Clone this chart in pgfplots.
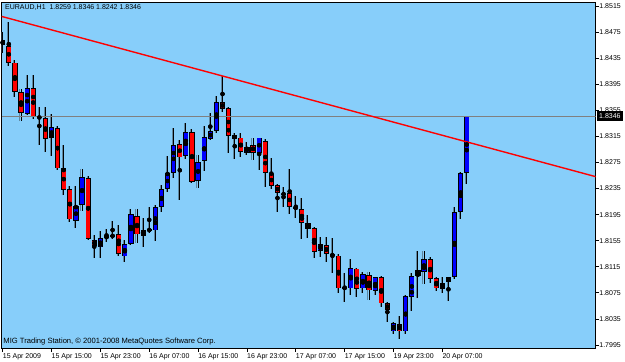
\documentclass[border=0pt]{standalone}
\usepackage{pgfplots}
\pgfplotsset{compat=1.18}
\usepackage{pgfplotstable}
\usepackage{fontspec}
\setmainfont{Liberation Sans}
\definecolor{mtbg}{RGB}{135,206,250}
\definecolor{mtgray}{RGB}{128,128,128}
\definecolor{mtred}{RGB}{255,0,0}
\definecolor{mtblue}{RGB}{0,0,255}
\definecolor{mtshadow}{RGB}{95,135,160}

% bearish (red) candles: bar index, open, high, low, close
\pgfplotstableread{
i o h l c
0 1.8463 1.8475 1.8443 1.8455
1 1.8454 1.8490 1.8423 1.8428
2 1.8428 1.8432 1.8375 1.8383
3 1.8383 1.8388 1.8339 1.8351
5 1.8389 1.8409 1.8342 1.8345
6 1.8345 1.8360 1.8302 1.8343
7 1.8343 1.8360 1.8291 1.8311
9 1.8328 1.8331 1.8263 1.8266
10 1.8266 1.8302 1.8225 1.8233
11 1.8234 1.8239 1.8184 1.8188
14 1.8251 1.8254 1.8156 1.8158
15 1.8156 1.8164 1.8128 1.8147
19 1.8165 1.8179 1.8131 1.8135
22 1.8193 1.8204 1.8151 1.8165
24 1.8173 1.8207 1.8167 1.8170
29 1.8303 1.8309 1.8217 1.8283
31 1.8322 1.8326 1.8243 1.8245
36 1.8368 1.8408 1.8352 1.8357
37 1.8358 1.8360 1.8289 1.8316
38 1.8317 1.8320 1.8280 1.8311
39 1.8313 1.8320 1.8283 1.8291
41 1.8302 1.8313 1.8279 1.8290
43 1.8308 1.8311 1.8237 1.8259
44 1.8257 1.8282 1.8234 1.8239
45 1.8240 1.8242 1.8199 1.8228
46 1.8227 1.8237 1.8207 1.8226
47 1.8228 1.8265 1.8196 1.8207
48 1.8207 1.8224 1.8190 1.8204
49 1.8204 1.8220 1.8158 1.8182
50 1.8182 1.8194 1.8159 1.8173
51 1.8174 1.8176 1.8128 1.8138
53 1.8148 1.8161 1.8122 1.8135
54 1.8135 1.8159 1.8105 1.8131
55 1.8132 1.8135 1.8075 1.8082
56 1.8083 1.8105 1.8061 1.8082
58 1.8112 1.8113 1.8069 1.8081
60 1.8102 1.8107 1.8064 1.8079
62 1.8099 1.8101 1.8053 1.8059
63 1.8059 1.8061 1.8030 1.8049
65 1.8027 1.8040 1.8004 1.8016
70 1.8127 1.8130 1.8090 1.8096
71 1.8098 1.8099 1.8078 1.8082
}\bear

% bullish (blue) candles
\pgfplotstableread{
i o h l c
4 1.8349 1.8409 1.8348 1.8389
8 1.8313 1.8349 1.8285 1.8329
12 1.8185 1.8239 1.8174 1.8208
13 1.8210 1.8265 1.8200 1.8253
16 1.8145 1.8170 1.8128 1.8159
17 1.8159 1.8173 1.8153 1.8162
18 1.8161 1.8185 1.8158 1.8164
20 1.8131 1.8156 1.8122 1.8150
21 1.8150 1.8204 1.8148 1.8196
23 1.8162 1.8190 1.8145 1.8171
25 1.8171 1.8210 1.8155 1.8207
26 1.8207 1.8240 1.8199 1.8234
27 1.8234 1.8285 1.8230 1.8259
28 1.8259 1.8328 1.8251 1.8302
30 1.8285 1.8336 1.8280 1.8322
32 1.8247 1.8286 1.8236 1.8276
33 1.8277 1.8331 1.8262 1.8314
34 1.8311 1.8351 1.8309 1.8323
35 1.8323 1.8377 1.8320 1.8368
40 1.8290 1.8306 1.8286 1.8299
42 1.8290 1.8313 1.8263 1.8313
52 1.8139 1.8161 1.8130 1.8150
57 1.8082 1.8127 1.8072 1.8113
59 1.8082 1.8107 1.8075 1.8104
61 1.8078 1.8099 1.8072 1.8099
64 1.8016 1.8030 1.8012 1.8029
66 1.8016 1.8072 1.8012 1.8070
67 1.8069 1.8105 1.8047 1.8101
68 1.8101 1.8139 1.8067 1.8110
69 1.8107 1.8139 1.8088 1.8127
72 1.8081 1.8099 1.8075 1.8090
73 1.8092 1.8099 1.8062 1.8099
74 1.8099 1.8207 1.8096 1.8199
75 1.8199 1.8260 1.8188 1.8259
76 1.8259 1.8346 1.8242 1.8346
}\bull

\pgfplotsset{
  wickshadow/.style={only marks, mark=none, forget plot,
    error bars/.cd, y dir=both, y explicit, error mark=none,
    error bar style={line width=1bp, mtshadow, xshift=-1.1bp}},
  wick/.style={only marks, mark=none, forget plot,
    error bars/.cd, y dir=both, y explicit, error mark=none,
    error bar style={line width=1bp, black}},
  bodyout/.style={only marks, mark=none, forget plot,
    error bars/.cd, y dir=both, y explicit, error mark=none,
    error bar style={line width=5.2bp, black}},
  bodyin/.style={only marks, mark=none, forget plot,
    error bars/.cd, y dir=both, y explicit, error mark=none,
    error bar style={line width=3.6bp, #1}},
}

\begin{document}
\fontsize{7bp}{8.4bp}\selectfont
\begin{tikzpicture}
\fill[white] (0,0) rectangle (625bp,362bp);
\begin{axis}[
  at={(1.7bp,14bp)}, anchor=south west,
  scale only axis, width=594bp, height=346bp,
  xmin=-0.164, xmax=97.12, ymin=1.799038, ymax=1.852114,
  axis background/.style={fill=mtbg},
  axis line style={black, line width=0.8bp},
  xtick={0,8,16,24,32,40,48,56,64,72},
  xticklabels={15 Apr 2009,15 Apr 15:00,15 Apr 23:00,16 Apr 07:00,16 Apr 15:00,16 Apr 23:00,17 Apr 07:00,17 Apr 15:00,19 Apr 23:00,20 Apr 07:00},
  ytick={1.7995,1.8035,1.8075,1.8115,1.8155,1.8195,1.8235,1.8275,1.8315,1.8355,1.8395,1.8435,1.8475,1.8515},
  yticklabels={1.7995,1.8035,1.8075,1.8115,1.8155,1.8195,1.8235,1.8275,1.8315,1.8355,1.8395,1.8435,1.8475,1.8515},
  xtick pos=bottom, ytick pos=right, yticklabel pos=right,
  tick align=outside, major tick length=3.5bp,
  tick style={black, line width=0.8bp},
  xticklabel style={anchor=north west, inner sep=0pt, yshift=-1.5bp},
  yticklabel style={anchor=west, inner sep=0pt},
  /pgf/number format/assume math mode=true,
]
% wicks
\addplot[wickshadow] table[x=i, y expr=(\thisrow{h}+\thisrow{l})/2, y error expr=(\thisrow{h}-\thisrow{l})/2] {\bear};
\addplot[wickshadow] table[x=i, y expr=(\thisrow{h}+\thisrow{l})/2, y error expr=(\thisrow{h}-\thisrow{l})/2] {\bull};
\addplot[wick] table[x=i, y expr=(\thisrow{h}+\thisrow{l})/2, y error expr=(\thisrow{h}-\thisrow{l})/2] {\bear};
\addplot[wick] table[x=i, y expr=(\thisrow{h}+\thisrow{l})/2, y error expr=(\thisrow{h}-\thisrow{l})/2] {\bull};
% bodies: black outline (at least about one pixel high)
\addplot[bodyout] table[x=i, y expr=(\thisrow{o}+\thisrow{c})/2, y error expr={max(abs(\thisrow{c}-\thisrow{o})/2,0.00008)}] {\bear};
\addplot[bodyout] table[x=i, y expr=(\thisrow{o}+\thisrow{c})/2, y error expr={max(abs(\thisrow{c}-\thisrow{o})/2,0.00008)}] {\bull};
% bodies: colour fill, inset by the outline width
\addplot[bodyin=mtred] table[x=i, y expr=(\thisrow{o}+\thisrow{c})/2, y error expr={max(abs(\thisrow{c}-\thisrow{o})/2-0.00011,0)}] {\bear};
\addplot[bodyin=mtblue] table[x=i, y expr=(\thisrow{o}+\thisrow{c})/2, y error expr={max(abs(\thisrow{c}-\thisrow{o})/2-0.00011,0)}] {\bull};
% bid line
\addplot[draw=mtgray, color=mtgray, line width=0.8bp, forget plot] coordinates {(-0.164,1.8346) (97.12,1.8346)};
% trend line
\addplot[draw=mtred, line width=1.4bp, forget plot] coordinates {(-0.164,1.84990) (97.12,1.82532)};
\coordinate (bid) at (axis cs:97.12,1.8346);
\node[anchor=north west, inner sep=0pt, xshift=3.3bp, yshift=-2.3bp] at (rel axis cs:0,1) {EURAUD,H1\ \ 1.8259 1.8346 1.8242 1.8346};
\node[anchor=base west, inner sep=0pt, xshift=1.6bp, yshift=4.7bp, font=\fontsize{7.6bp}{9bp}\selectfont] at (rel axis cs:0,0) {MIG Trading Station, © 2001-2008 MetaQuotes Software Corp.};
\end{axis}
\node[fill=black, text=white, anchor=west, inner xsep=2bp, inner ysep=2.2bp, xshift=1.3bp] at (bid) {1.8346};
\pgfresetboundingbox
\path[use as bounding box] (0,0) rectangle (625bp,362bp);
\end{tikzpicture}
\end{document}
